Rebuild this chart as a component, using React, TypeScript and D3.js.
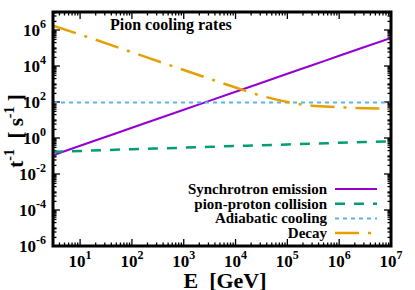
import React from "react";
import * as d3 from "d3";

const width = 415;
const height = 290;
const margin = { top: 12, right: 24, bottom: 44, left: 53 };

// energies (GeV) where the curves were read
const energy = [3, 10, 100, 1e3, 1e4, 3e4, 1e5, 3e5, 1e6, 3e6, 1e7];
const synchrotron = [0.11, 0.37, 3.7, 37, 370, 1100, 3700, 11000, 37000, 110000, 360000];
const collision = [0.17, 0.19, 0.24, 0.29, 0.36, 0.39, 0.44, 0.48, 0.54, 0.6, 0.66];
const adiabatic = [95, 95, 95, 95, 95, 95, 95, 95, 95, 95, 95];
const decay = [1.75e6, 5.6e5, 5.8e4, 6e3, 640, 230, 100, 62, 52, 45, 42];

const seriesNames = ["Synchrotron emission", "pion-proton collision", "Adiabatic cooling", "Decay"];
const xTickExps = [1, 2, 3, 4, 5, 6, 7];
const yTickExps = [-6, -4, -2, 0, 2, 4, 6];

const font = "'Liberation Serif', 'DejaVu Serif', serif";

export default function App() {
  const iw = width - margin.left - margin.right;
  const ih = height - margin.top - margin.bottom;
  const x = d3.scaleLog().domain([3, 1e7]).range([margin.left, margin.left + iw]);
  const y = d3.scaleLog().domain([1e-6, 1e7]).range([margin.top + ih, margin.top]);

  const styles = [
    { color: "#9400d3", dash: "none", w: 2 },
    { color: "#009e73", dash: "10,9", w: 2.5 },
    { color: "#56b4e9", dash: "4,4", w: 2 },
    { color: "#e69f00", dash: "24,9,3,9", w: 2.5 },
  ];
  const allData = [synchrotron, collision, adiabatic, decay];

  const line = d3.line<number>()
    .x((d, i) => x(energy[i]))
    .y((d) => y(d))
    .curve(d3.curveMonotoneX);

  // minor ticks
  const xMinor: number[] = [];
  for (let e = 0; e < 7; e++) for (let m = 2; m < 10; m++) {
    const v = m * Math.pow(10, e);
    if (v >= 3 && v <= 1e7) xMinor.push(v);
  }
  const yMinor: number[] = [];
  for (let e = -6; e < 7; e++) for (let m = 1; m < 10; m++) {
    const v = m * Math.pow(10, e);
    if (m === 1 && e % 2 === 0) continue;
    if (m > 1 && m % 3 !== 0 && e % 2 === 0) continue;
    yMinor.push(v);
  }

  const x0 = margin.left, x1 = margin.left + iw, y0 = margin.top + ih, y1 = margin.top;

  return (
    <svg width={width} height={height} style={{ position: "absolute", left: 0, top: 0, background: "#fff" }} fontFamily={font} fontWeight="bold">
      <defs>
        <clipPath id="plotclip">
          <rect x={x0} y={y1} width={iw} height={ih} />
        </clipPath>
      </defs>

      {/* ticks */}
      <g stroke="#000" strokeWidth={1.3}>
        {xTickExps.map((e) => {
          const px = x(Math.pow(10, e));
          return (
            <g key={"xt" + e}>
              <line x1={px} x2={px} y1={y0} y2={y0 - 7} />
              <line x1={px} x2={px} y1={y1} y2={y1 + 7} />
            </g>
          );
        })}
        {xMinor.map((v, i) => (
          <g key={"xm" + i}>
            <line x1={x(v)} x2={x(v)} y1={y0} y2={y0 - 3.5} />
            <line x1={x(v)} x2={x(v)} y1={y1} y2={y1 + 3.5} />
          </g>
        ))}
        {yTickExps.map((e) => {
          const py = y(Math.pow(10, e));
          return (
            <g key={"yt" + e}>
              <line x1={x0} x2={x0 + 7} y1={py} y2={py} />
              <line x1={x1} x2={x1 - 7} y1={py} y2={py} />
            </g>
          );
        })}
        {yMinor.map((v, i) => (
          <g key={"ym" + i}>
            <line x1={x0} x2={x0 + 3.5} y1={y(v)} y2={y(v)} />
            <line x1={x1} x2={x1 - 3.5} y1={y(v)} y2={y(v)} />
          </g>
        ))}
      </g>

      {/* curves */}
      <g clipPath="url(#plotclip)">
        {allData.map((d, i) => (
          <path key={i} d={line(d) || ""} fill="none" stroke={styles[i].color}
            strokeWidth={styles[i].w} strokeDasharray={styles[i].dash} />
        ))}
      </g>

      <rect x={x0} y={y1} width={iw} height={ih} fill="none" stroke="#000" strokeWidth={3} />

      {/* tick labels */}
      {xTickExps.map((e) => (
        <text key={"xl" + e} x={x(Math.pow(10, e))} y={267} textAnchor="middle" fontSize={17}>
          10<tspan fontSize={12} dy={-8}>{e}</tspan>
        </text>
      ))}
      {yTickExps.map((e) => (
        <text key={"yl" + e} x={46} y={y(Math.pow(10, e)) + 6} textAnchor="end" fontSize={17}>
          10<tspan fontSize={12} dy={-8}>{e}</tspan>
        </text>
      ))}

      <text x={110} y={30} fontSize={16}>Pion cooling rates</text>

      {/* legend */}
      {seriesNames.map((n, i) => {
        const ly = 189 + i * 14.7;
        return (
          <g key={"lg" + i}>
            <text x={327} y={ly + 5} textAnchor="end" fontSize={15}>{n}</text>
            <line x1={335} x2={377} y1={ly} y2={ly} stroke={styles[i].color}
              strokeWidth={styles[i].w} strokeDasharray={styles[i].dash} />
          </g>
        );
      })}

      {/* axis titles */}
      <text x={225} y={288} textAnchor="middle" fontSize={22} xmlSpace="preserve">E  [GeV]</text>
      <text transform="translate(23,131) rotate(-90)" textAnchor="middle" fontSize={21} xmlSpace="preserve">
        t<tspan fontSize={14} dy={-9}>-1</tspan><tspan dy={9}>  [ s</tspan><tspan fontSize={14} dy={-9}>-1</tspan><tspan dy={9}> ]</tspan>
      </text>
    </svg>
  );
}
